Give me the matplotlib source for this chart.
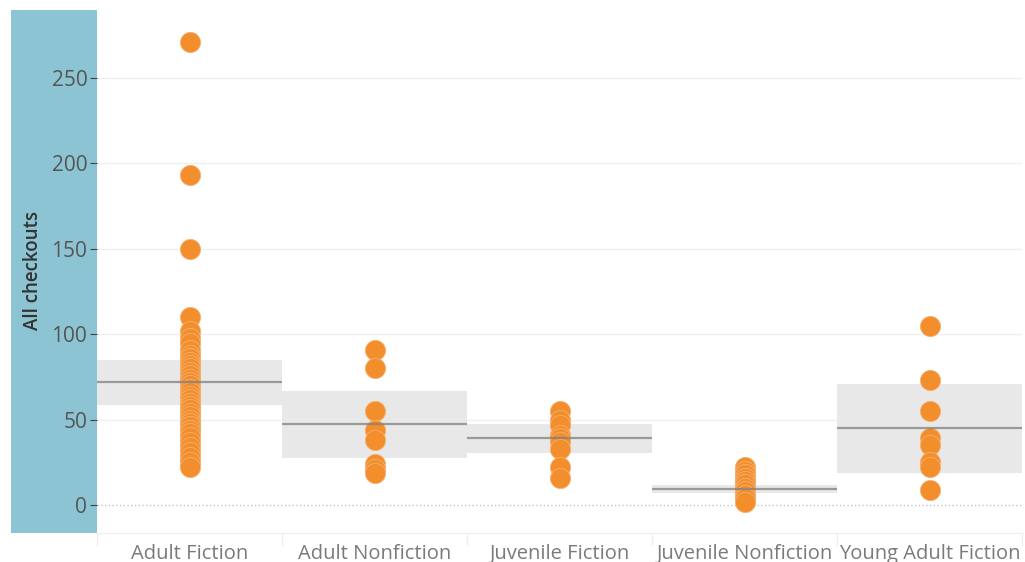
import matplotlib
matplotlib.use("Agg")
import matplotlib.pyplot as plt
from matplotlib.patches import Rectangle

categories = ["Adult Fiction", "Adult Nonfiction", "Juvenile Fiction",
              "Juvenile Nonfiction", "Young Adult Fiction"]

adult_fiction = [271, 193, 150, 110, 102, 98, 95, 91, 88, 86, 84, 82, 80, 78, 76,
                 74, 72, 70, 68, 66, 64, 62, 60, 58, 56, 54, 52, 50, 48, 46, 44,
                 42, 40, 37, 34, 31, 28, 25, 22]
adult_nonfiction = [91, 80, 55, 44, 38, 24, 21, 19]
juvenile_fiction = [55, 50, 47, 41, 39, 37, 33, 22, 16]
juvenile_nonfiction = [22, 20, 18, 16, 14, 12, 10, 8, 6, 4, 2]
young_adult_fiction = [105, 73, 55, 39, 35, 25, 22, 9]
series = [adult_fiction, adult_nonfiction, juvenile_fiction,
          juvenile_nonfiction, young_adult_fiction]

ref_mean = [72, 47.4, 39, 9.4, 45.3]
band_low = [58.5, 27.5, 30.6, 6.8, 18.9]
band_high = [85, 66.7, 47.2, 11.5, 71]

yticks = [0, 50, 100, 150, 200, 250]

plt.rcParams['font.family'] = ['Open Sans', 'DejaVu Sans']

W, H = 1025, 562
fig = plt.figure(figsize=(W / 100, H / 100), dpi=100)
fig.patch.set_facecolor("white")

x0, x1, ytop, ybot = 97, 1022, 10, 533
ax = fig.add_axes([x0 / W, (H - ybot) / H, (x1 - x0) / W, (ybot - ytop) / H])
ax.set_zorder(2)

# blue panel behind y axis
fig.patches.append(Rectangle((11 / W, (H - ybot) / H), (x0 - 11) / W, (ybot - ytop) / H,
                             transform=fig.transFigure, facecolor="#8dc4d3",
                             edgecolor="none", zorder=-1))

orange = "#f28e2b"
for i, vals in enumerate(series):
    ax.add_patch(Rectangle((i - 0.5, band_low[i]), 1.0, band_high[i] - band_low[i],
                           facecolor="#e8e8e8", edgecolor="none", zorder=1))
    ax.scatter([i] * len(vals), vals, s=210, color=orange, edgecolor="#f6b070",
               linewidth=0.6, zorder=3)
    ax.plot([i - 0.5, i + 0.5], [ref_mean[i], ref_mean[i]], color="#7f7f7f",
            linewidth=1.6, alpha=0.75, zorder=4, solid_capstyle="butt")

ax.set_xlim(-0.5, len(categories) - 0.5)
ax.set_ylim(-16.4, 289.8)

for y in yticks[1:]:
    ax.axhline(y, color="#efefef", linewidth=0.9, zorder=0.5)
ax.axhline(0, color="#bbbbbb", linewidth=0.9, linestyle=(0, (1, 2)), zorder=0.5)

ax.set_yticks(yticks)
ax.set_yticklabels([str(v) for v in yticks])
ax.tick_params(axis="y", length=5, width=0.8, color="#444444", labelcolor="#555555",
               labelsize=15, pad=2)
ax.set_xticks(range(len(categories)))
ax.set_xticklabels(categories)
ax.tick_params(axis="x", length=0, labelcolor="#7a7a7a", labelsize=14.5, pad=8)

for s in ["top", "right", "left"]:
    ax.spines[s].set_visible(False)
ax.spines["bottom"].set_color("#eeeeee")
ax.set_facecolor("none")

# category separators below axis
for i in range(len(categories) + 1):
    ax.plot([i - 0.5, i - 0.5], [-16.4, -23.5], color="#eeeeee", linewidth=1,
            clip_on=False, zorder=0)

fig.text(33 / W, 1 - 270 / H, "All checkouts", rotation=90, ha="center", va="center",
         fontsize=13.5, color="#333333", fontweight="semibold")

fig.savefig("out.png", dpi=100)
